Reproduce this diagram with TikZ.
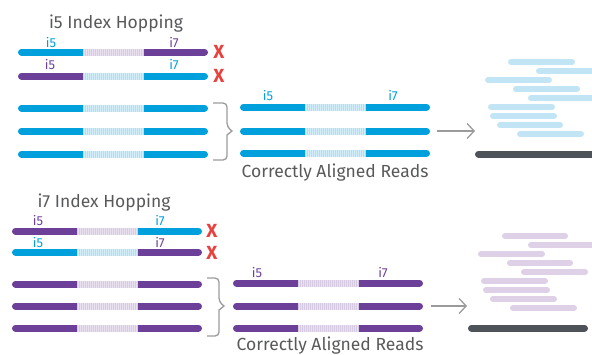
\documentclass[tikz,border=0pt]{standalone}
\usepackage{fontspec}
\setmainfont{Fira Sans}
\usetikzlibrary{arrows.meta}

\definecolor{seqblue}{HTML}{00A0DD}
\definecolor{seqpurple}{HTML}{6C3F98}
\definecolor{paleblue}{HTML}{D3EDF9}
\definecolor{stripeblue}{HTML}{B3DDF2}
\definecolor{palepurple}{HTML}{E9E1F0}
\definecolor{stripepurple}{HTML}{D6CBE3}
\definecolor{readblue}{HTML}{C2E5F6}
\definecolor{readpurple}{HTML}{DDD0E7}
\definecolor{refgray}{HTML}{4E5359}
\definecolor{textgray}{HTML}{58595B}
\definecolor{linegray}{HTML}{9B9B9B}
\definecolor{xred}{HTML}{E8413E}

\tikzset{
  seg/.style={line width=7pt, line cap=round},
  midseg/.style={line width=7pt},
  readbar/.style={line width=6pt, line cap=round},
  title/.style={text=textgray, font=\fontsize{17.5}{20}\selectfont, inner sep=0pt, anchor=base},
  idx/.style={font=\fontsize{13}{15}\selectfont, inner sep=0pt, anchor=base},
  cross/.style={text=xred, font=\fontsize{19}{22}\selectfont\bfseries, inner sep=0pt},
  bracket/.style={draw=linegray, line width=1.3pt},
  flow/.style={draw=linegray, line width=1.3pt, -{Straight Barb[length=7pt,width=15pt]}}
}

\newcommand{\seqbar}[6]{%
  \draw[seg,#3] ({#1+3.5},#2) -- ({#1+65},#2);
  \draw[seg,#6] ({#1+126},#2) -- ({#1+186.5},#2);
  \draw[midseg,#4] ({#1+65},#2) -- ({#1+126},#2);
  \draw[midseg,#5,dash pattern=on 0.7pt off 1.3pt] ({#1+65},#2) -- ({#1+126},#2);
}

\begin{document}
\begin{tikzpicture}[x=1pt,y=-1pt]
  \useasboundingbox (0,0) rectangle (592,354);
  \clip (0,0) rectangle (592,354);

  \node[title] (hop5) at (116,28) {i5 Index Hopping};
  \seqbar{18}{52}{seqblue}{palepurple}{stripepurple}{seqpurple}
  \seqbar{18}{76}{seqpurple}{paleblue}{stripeblue}{seqblue}
  \foreach \y in {108,131,154}
    {\seqbar{18}{\y}{seqblue}{paleblue}{stripeblue}{seqblue}}
  \node[idx,text=seqblue] (ta5) at (51,47) {i5};
  \node[idx,text=seqpurple] (ta7) at (174,47) {i7};
  \node[idx,text=seqpurple] (tb5) at (50,69) {i5};
  \node[idx,text=seqblue] (tb7) at (174,69) {i7};
  \node[cross] (xa) at (219,52) {X};
  \node[cross] (xb) at (219,76) {X};
  \draw[bracket,rounded corners=4pt] (213,103) -- (227,103) -- (227,127)
    [sharp corners] -- (232,131) -- (227,135) [rounded corners=4pt] -- (227,160) -- (213,160);

  \foreach \y in {107,131,153}
    {\seqbar{240}{\y}{seqblue}{paleblue}{stripeblue}{seqblue}}
  \node[idx,text=seqblue] (tc5) at (268,100) {i5};
  \node[idx,text=seqblue] (tc7) at (393,100) {i7};
  \node[title] (good5) at (335,177) {Correctly Aligned Reads};

  \coordinate (from5) at (437,131);
  \coordinate (to5) at (475,131);
  \draw[flow] (from5) -- (to5);

  \foreach \a/\b/\y in {508/575/62, 536/620/71, 485/552/80, 513/580/89, 528/620/98,
                         488/555/107, 490/557/116, 497/563/125, 517/584/134}
    \draw[readbar,readblue] ({\a+3},\y) -- ({\b-3},\y);
  \draw[seg,refgray] (478.5,154) -- (620,154);

  \node[title] (hop7) at (104,207) {i7 Index Hopping};
  \seqbar{12}{231}{seqpurple}{palepurple}{stripepurple}{seqblue}
  \seqbar{12}{252}{seqblue}{paleblue}{stripeblue}{seqpurple}
  \foreach \y in {284,306,328}
    {\seqbar{12}{\y}{seqpurple}{palepurple}{stripepurple}{seqpurple}}
  \node[idx,text=seqpurple] (td5) at (38,225) {i5};
  \node[idx,text=seqblue] (td7) at (160,225) {i7};
  \node[idx,text=seqblue] (te5) at (38,247) {i5};
  \node[idx,text=seqpurple] (te7) at (160,247) {i7};
  \node[cross] (xc) at (212,231) {X};
  \node[cross] (xd) at (212,253) {X};
  \draw[bracket,rounded corners=4pt] (207,278) -- (219,278) -- (219,302)
    [sharp corners] -- (224,306) -- (219,310) [rounded corners=4pt] -- (219,336) -- (207,336);

  \foreach \y in {283,306,328}
    {\seqbar{233}{\y}{seqpurple}{palepurple}{stripepurple}{seqpurple}}
  \node[idx,text=seqpurple] (tf5) at (257,277) {i5};
  \node[idx,text=seqpurple] (tf7) at (383,277) {i7};
  \node[title] (good7) at (330,350) {Correctly Aligned Reads};

  \coordinate (from7) at (431,306);
  \coordinate (to7) at (467,306);
  \draw[flow] (from7) -- (to7);

  \foreach \a/\b/\y in {502/568/236, 528/620/245, 478/545/254, 507/573/263, 521/588/272,
                         481/548/281, 483/550/290, 490/557/299, 510/577/308}
    \draw[readbar,readpurple] ({\a+3},\y) -- ({\b-3},\y);
  \draw[seg,refgray] (471.5,328) -- (584.5,328);
\end{tikzpicture}
\end{document}
